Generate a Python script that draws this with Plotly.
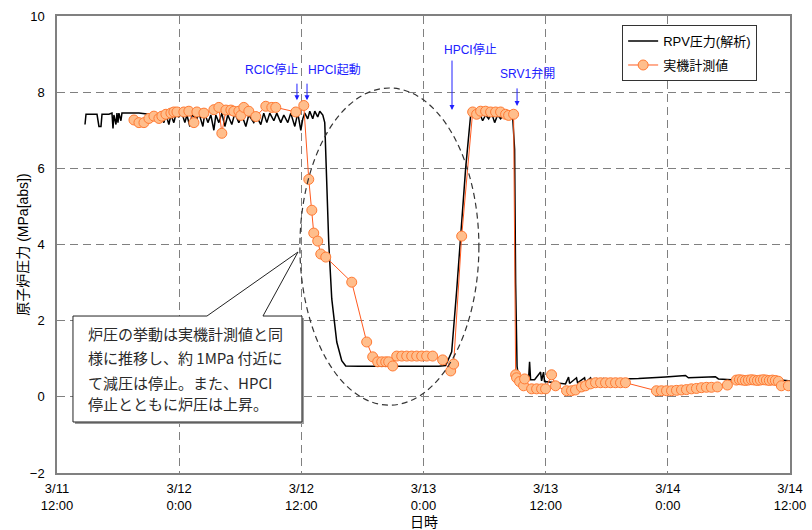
import pandas as pd
import plotly.graph_objects as go

BASE = pd.Timestamp("2011-03-11 12:00")

# RPV pressure (analysis), hours after 3/11 12:00 and MPa[abs]
rpv_hours = [2.75, 2.85, 3.63, 3.93, 4.12, 4.32, 4.42, 5.10, 5.40, 5.50, 5.59, 5.79, 5.89, 5.99,
             6.08, 6.28, 6.38, 7.07, 8.05, 9.03, 10.01, 10.50, 10.70, 10.99, 11.19, 11.48, 11.68,
             11.97, 12.27, 12.56, 12.76, 13.05, 13.25, 13.74, 13.94, 14.33, 14.52, 14.82, 15.11,
             15.41, 15.60, 15.90, 16.19, 16.49, 16.78, 17.17, 17.47, 17.86, 18.16, 18.55, 18.84,
             19.33, 19.63, 20.02, 20.31, 20.61, 20.90, 21.30, 21.59, 21.98, 22.28, 22.67, 22.96,
             23.36, 23.65, 23.95, 24.14, 24.34, 24.63, 24.83, 25.12, 25.32, 25.61, 25.81, 26.11,
             26.30, 26.69, 26.99, 27.48, 27.97, 28.36, 29.64, 31.60, 33.56, 35.53, 37.49, 38.18,
             38.77, 39.26, 39.65, 40.14, 40.63, 41.02, 41.32, 41.51, 41.81, 42.10, 42.40, 42.69,
             42.99, 43.28, 43.57, 43.87, 44.16, 44.46, 44.75, 44.95, 45.05, 45.19, 45.34, 45.83,
             46.32, 46.42, 46.52, 46.91, 47.50, 47.60, 47.79, 47.89, 48.58, 49.95, 50.25, 50.35,
             51.03, 51.13, 51.82, 51.92, 52.41, 52.50, 53.00, 53.09, 53.68, 53.78, 54.27, 54.37,
             54.96, 55.06, 55.65, 56.43, 57.12, 59.77, 61.73, 62.02, 64.67, 64.97, 66.24, 68.89,
             70.86, 71.84, 72.33]
rpv_mpa = [7.15, 7.42, 7.42, 7.42, 7.10, 7.10, 7.42, 7.42, 7.45, 7.05, 7.40, 7.15, 7.45, 7.20,
           7.45, 7.25, 7.45, 7.45, 7.45, 7.42, 7.40, 7.20, 7.42, 7.15, 7.40, 7.20, 7.42,
           7.35, 7.45, 7.20, 7.40, 7.10, 7.40, 7.30, 7.45, 7.10, 7.45, 7.20, 7.40,
           7.00, 7.40, 7.20, 7.45, 7.10, 7.40, 7.15, 7.45, 7.20, 7.40, 7.10, 7.40,
           7.20, 7.35, 7.15, 7.45, 7.20, 7.45, 7.25, 7.45, 7.20, 7.40, 7.20, 7.45,
           7.10, 7.45, 7.00, 7.30, 7.45, 7.30, 7.50, 7.30, 7.50, 7.35, 7.50, 7.40,
           7.20, 4.06, 2.57, 1.44, 0.95, 0.81, 0.80, 0.80, 0.80, 0.80, 0.80, 0.82,
           1.18, 2.80, 4.30, 6.00, 7.40, 7.50, 7.30, 7.45, 7.25, 7.40, 7.30, 7.45,
           7.20, 7.40, 7.30, 7.40, 7.30, 7.40, 7.38, 6.50, 3.00, 0.80, 0.50, 0.45,
           0.45, 0.92, 0.45, 0.45, 0.65, 0.42, 0.65, 0.40, 0.38, 0.34, 0.52, 0.35,
           0.50, 0.37, 0.50, 0.38, 0.50, 0.40, 0.48, 0.40, 0.48, 0.42, 0.47, 0.43,
           0.47, 0.44, 0.47, 0.47, 0.48, 0.52, 0.56, 0.50, 0.53, 0.47, 0.45, 0.45,
           0.45, 0.42, 0.40]

# Plant measured values (実機計測値)
meas_hours = [7.56, 8.05, 8.54, 9.03, 9.52, 10.01, 10.30, 10.70, 11.19, 11.48, 11.78, 12.46,
              12.95, 13.45, 13.74, 14.43, 15.41, 15.90, 16.19, 16.59, 17.08, 17.37, 17.86,
              18.06, 18.35, 18.84, 19.53, 20.51, 21.10, 21.49, 23.46, 24.24, 24.73, 25.03,
              25.22, 25.61, 25.91, 26.40, 28.95, 30.42, 31.01, 31.50, 31.90, 32.29, 32.58,
              32.98, 33.37, 33.86, 34.35, 34.84, 35.33, 35.82, 36.31, 36.90, 37.88, 38.67,
              38.96, 39.75, 40.83, 41.22, 41.61, 42.10, 42.59, 43.08, 43.57, 44.06, 44.36,
              44.85, 45.05, 45.14, 45.44, 45.83, 45.93, 46.62, 47.11, 47.60, 47.99, 48.58,
              48.97, 50.05, 50.54, 50.93, 51.52, 51.92, 52.41, 52.90, 53.39, 53.88, 54.37,
              54.86, 55.35, 55.84, 58.88, 59.37, 59.87, 60.36, 60.85, 61.34, 61.83, 62.32,
              62.81, 63.30, 63.79, 64.28, 64.87, 65.85, 66.73, 67.03, 67.32, 67.62, 67.91,
              68.21, 68.50, 68.80, 69.09, 69.39, 69.68, 69.97, 70.27, 70.56, 70.86, 71.15,
              71.84]
meas_mpa = [7.27, 7.20, 7.20, 7.31, 7.37, 7.31, 7.37, 7.42, 7.45, 7.48, 7.48, 7.48,
            7.50, 7.20, 7.48, 7.45, 7.54, 7.60, 6.92, 7.53, 7.53, 7.50, 7.50,
            7.39, 7.60, 7.50, 7.36, 7.63, 7.60, 7.60, 7.48, 7.65, 5.71, 4.90,
            4.30, 4.09, 3.75, 3.67, 3.01, 1.44, 1.05, 0.92, 0.92, 0.92, 0.92,
            0.81, 1.07, 1.07, 1.07, 1.07, 1.07, 1.07, 1.07, 1.07, 0.97, 0.68,
            0.86, 4.22, 7.48, 7.42, 7.50, 7.50, 7.48, 7.48, 7.48, 7.42, 7.39,
            7.42, 0.58, 0.50, 0.40, 0.29, 0.47, 0.21, 0.21, 0.21, 0.21, 0.58,
            0.29, 0.16, 0.16, 0.18, 0.26, 0.29, 0.34, 0.37, 0.37, 0.37, 0.37,
            0.37, 0.37, 0.37, 0.16, 0.16, 0.16, 0.16, 0.17, 0.18, 0.19, 0.21,
            0.22, 0.24, 0.25, 0.25, 0.26, 0.31, 0.44, 0.45, 0.44, 0.43, 0.44,
            0.45, 0.44, 0.43, 0.44, 0.45, 0.44, 0.43, 0.44, 0.43, 0.41, 0.29,
            0.29]

tick_hours = [0, 12, 24, 36, 48, 60, 72]
tick_labels = ["3/11<br>12:00", "3/12<br>0:00", "3/12<br>12:00", "3/13<br>0:00",
               "3/13<br>12:00", "3/14<br>0:00", "3/14<br>12:00"]

# event annotations: (label, text hour, text MPa, arrow hour, arrow head MPa, arrow tail offset px)
events = [
    ("RCIC停止", 21.11, 8.58, 23.57, 7.79, -18),
    ("HPCI起動", 27.30, 8.58, 24.56, 7.79, -18),
    ("HPCI停止", 40.66, 9.11, 38.80, 7.53, -51),
    ("SRV1弁開", 46.25, 8.50, 45.19, 7.64, -19),
]

callout_lines = ["炉圧の挙動は実機計測値と同",
                 "様に推移し、約 1MPa 付近に",
                 "て減圧は停止。また、HPCI",
                 "停止とともに炉圧は上昇。"]


def t(h):
    return BASE + pd.to_timedelta(h, unit="h")


fig = go.Figure()
fig.add_trace(go.Scatter(
    x=t(pd.Series(rpv_hours)), y=rpv_mpa, mode="lines", name="RPV圧力(解析)",
    line=dict(color="black", width=1.5), legendgroup="a"))
fig.add_trace(go.Scatter(
    x=t(pd.Series(meas_hours)), y=meas_mpa, mode="lines+markers", name="実機計測値",
    line=dict(color="#FF5A1F", width=1),
    marker=dict(size=10, color="#FFBE8C", line=dict(color="#FF7A33", width=1)),
    legendgroup="b"))

FONT = "Liberation Sans, Noto Sans CJK JP, sans-serif"
BLUE = "#2020FF"
anns = []
for label, th, ty, ah, ay_v, off in events:
    anns.append(dict(x=t(th), y=ty, xref="x", yref="y", text=label, showarrow=False,
                     font=dict(family=FONT, size=12, color=BLUE)))
    anns.append(dict(x=t(ah), y=ay_v, xref="x", yref="y", text="", showarrow=True,
                     ax=0, ay=off, arrowhead=2, arrowsize=1, arrowwidth=1, arrowcolor=BLUE))

line_y = [0.3063, 0.2538, 0.1991, 0.151]
for txt, yy in zip(callout_lines, line_y):
    anns.append(dict(x=0.0396, y=yy, xref="paper", yref="paper", text=txt, showarrow=False,
                     xanchor="left", yanchor="middle",
                     font=dict(family="Noto Sans CJK JP", size=15, color="#2a2a2a")))

# axis titles placed as annotations so margins stay fixed
anns.append(dict(x=-0.0475, y=0.5, xref="paper", yref="paper", text="原子炉圧力 (MPa[abs])",
                 textangle=-90, showarrow=False, xanchor="center", yanchor="middle",
                 font=dict(family=FONT, size=14, color="black")))
anns.append(dict(x=0.5, y=-0.108, xref="paper", yref="paper", text="日時",
                 showarrow=False, xanchor="center", yanchor="middle",
                 font=dict(family=FONT, size=14, color="black")))

path = "M 0.0218,0.3435 L 0.2046,0.3435 L 0.3288,0.4836 L 0.2810,0.3435 L 0.3342,0.3435 L 0.3342,0.1116 L 0.0218,0.1116 Z"
shadow = "M 0.0245,0.3391 L 0.3369,0.3391 L 0.3369,0.1072 L 0.0245,0.1072 Z"
shapes = [
    dict(type="circle", xref="x", yref="y", x0=t(23.86), x1=t(41.44), y0=-0.22, y1=8.11,
         line=dict(color="#333333", width=1.2, dash="6px,4px")),
    dict(type="path", xref="paper", yref="paper", path=shadow, fillcolor="#9a9a9a",
         line=dict(width=0)),
    dict(type="path", xref="paper", yref="paper", path=path, fillcolor="white",
         line=dict(color="#222222", width=1)),
]

fig.update_layout(
    width=812, height=530,
    margin=dict(l=57, r=22, t=16, b=57, autoexpand=False),
    paper_bgcolor="white", plot_bgcolor="white",
    font=dict(family=FONT, size=13, color="black"),
    showlegend=True,
    legend=dict(x=0.771, y=0.980, xanchor="left", yanchor="top",
                bordercolor="#333333", borderwidth=1, bgcolor="white",
                font=dict(family=FONT, size=13), tracegroupgap=4,
                itemwidth=30),
    annotations=anns,
    shapes=shapes,
    xaxis=dict(type="date", range=[t(0), t(72)],
               tickvals=[t(h) for h in tick_hours], ticktext=tick_labels,
               showgrid=True, gridcolor="#808080", griddash="8px,5px", gridwidth=1,
               showline=True, linecolor="#808080", linewidth=1.5, mirror=True,
               ticks="outside", ticklen=3, tickcolor="white", zeroline=False,
               automargin=False, ticklabeloverflow="allow",
               tickfont=dict(family=FONT, size=13)),
    yaxis=dict(range=[-2, 10], tickvals=[-2, 0, 2, 4, 6, 8, 10],
               showgrid=True, gridcolor="#808080", griddash="8px,5px", gridwidth=1,
               showline=True, linecolor="#808080", linewidth=1.5, mirror=True,
               ticks="outside", ticklen=8, tickcolor="white", zeroline=False,
               automargin=False,
               tickfont=dict(family=FONT, size=13)),
)

fig.write_html("out.html", config={"displayModeBar": False},
               post_script="document.body.style.margin='0px';document.body.style.overflow='hidden';")
